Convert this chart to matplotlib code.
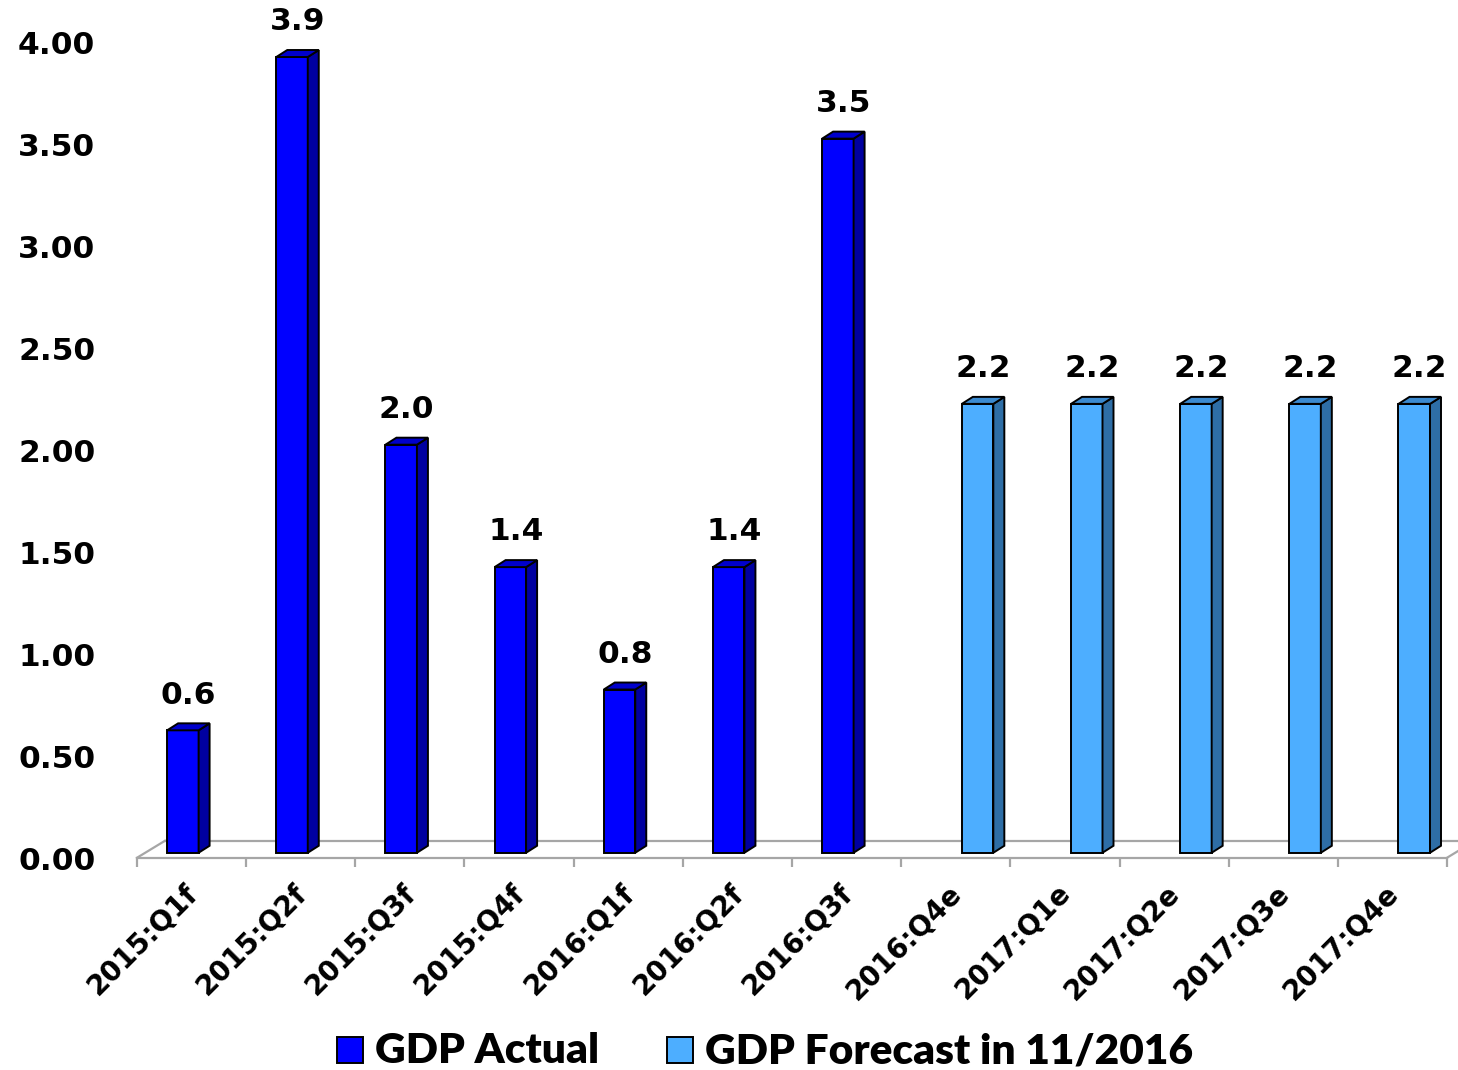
import numpy as np
import matplotlib.pyplot as plt
from matplotlib.patches import Polygon, Rectangle
from matplotlib.transforms import ScaledTranslation

# data
categories = ["2015:Q1f", "2015:Q2f", "2015:Q3f", "2015:Q4f",
              "2016:Q1f", "2016:Q2f", "2016:Q3f", "2016:Q4e",
              "2017:Q1e", "2017:Q2e", "2017:Q3e", "2017:Q4e"]
gdpActual = [0.6, 3.9, 2.0, 1.4, 0.8, 1.4, 3.5,
             np.nan, np.nan, np.nan, np.nan, np.nan]
gdpForecast = [np.nan] * 7 + [2.2, 2.2, 2.2, 2.2, 2.2]
yticks = [0.0, 0.5, 1.0, 1.5, 2.0, 2.5, 3.0, 3.5, 4.0]
seriesNames = ["GDP Actual", "GDP Forecast in 11/2016"]

W, H = 1458, 1070
AX_L, AX_B, AX_W, AX_H = 137, 865, 1310, 859   # pixels (bottom measured from top)
YMIN, YMAX = -0.06, 4.15


def px2x(p):
    return p * 12.0 / AX_W


def px2y(p):
    return p * (YMAX - YMIN) / AX_H


def bars3d(ax, xpos, values, width, front, side, top):
    """Draw pseudo 3d bars (front face + side + top) with value labels."""
    dx, dy = px2x(11), px2y(7)
    for x, v in zip(xpos, values):
        if np.isnan(v):
            continue
        ax.bar(x, v, width, color=front, edgecolor="black", linewidth=1.4, zorder=3)
        r, l = x + width / 2, x - width / 2
        ax.add_patch(Polygon([(r, 0), (r + dx, dy), (r + dx, v + dy), (r, v)],
                             closed=True, facecolor=side, edgecolor="black",
                             linewidth=1.4, zorder=3))
        ax.add_patch(Polygon([(l, v), (l + dx, v + dy), (r + dx, v + dy), (r, v)],
                             closed=True, facecolor=top, edgecolor="black",
                             linewidth=1.4, zorder=3))
        ax.annotate("%.1f" % v, xy=(x + dx / 2, v), xytext=(0, 15),
                    textcoords="offset points", ha="center", va="bottom",
                    fontsize=22.5, fontweight="bold", annotation_clip=False)


fig = plt.figure(figsize=(W / 100, H / 100), dpi=100)
ax = fig.add_axes([AX_L / W, (H - AX_B) / H, AX_W / W, AX_H / H])
ax.set_xlim(-0.5, 11.5)
ax.set_ylim(YMIN, YMAX)
for s in ax.spines.values():
    s.set_visible(False)

x = np.arange(len(categories))
barW = px2x(31.5)
bars3d(ax, x - 0.08, gdpActual, barW, "#0000FF", "#0000A0", "#0000CC")
bars3d(ax, x + 0.20, gdpForecast, barW, "#4DAEFF", "#2E6EA6", "#3B8AD0")

# floor of the 3d plot
grey = "#A6A6A6"
yf = -px2y(5)
yb = yf + px2y(17)
sh = px2x(28)
ax.plot([-0.5, 11.5], [yf, yf], color=grey, lw=1.6, clip_on=False, zorder=1)
ax.plot([-0.5 + sh, 11.5 + sh], [yb, yb], color=grey, lw=1.6, clip_on=False, zorder=1)
ax.plot([-0.5, -0.5 + sh], [yf, yb], color=grey, lw=1.6, clip_on=False, zorder=1)
ax.plot([11.5, 11.5 + sh], [yf, yb], color=grey, lw=1.6, clip_on=False, zorder=1)
ax.vlines(np.arange(-0.5, 12, 1.0), yf - px2y(9), yf, color=grey, lw=1.6,
          clip_on=False, zorder=1)

ax.set_yticks(yticks)
ax.set_yticklabels(["%.2f" % t for t in yticks], fontsize=22.5, fontweight="bold")
ax.tick_params(axis="y", length=0, pad=30)
shift = ScaledTranslation(0, -0.06, fig.dpi_scale_trans)
for lab in ax.get_yticklabels():
    lab.set_transform(lab.get_transform() + shift)

ax.set_xticks(x)
ax.set_xticklabels(categories, rotation=45, ha="right", rotation_mode="anchor",
                   fontsize=20, fontweight="bold")
ax.tick_params(axis="x", length=0, pad=10)
shiftX = ScaledTranslation(-0.08, 0, fig.dpi_scale_trans)
for lab in ax.get_xticklabels():
    lab.set_transform(lab.get_transform() + shiftX)

# legend drawn by hand to match the squares of the original
legendItems = [(337, seriesNames[0], "#0000FF"), (667, seriesNames[1], "#4DAEFF")]
for px, name, col in legendItems:
    fig.patches.append(Rectangle((px / W, (H - 1063) / H), 26 / W, 26 / H,
                                 transform=fig.transFigure, facecolor=col,
                                 edgecolor="black", linewidth=1.4))
    fig.text((px + 38) / W, (H - 1051) / H, name, family="Lato",
             fontweight="heavy", fontsize=30.5, va="center", ha="left")

fig.savefig("out.png", dpi=100)
